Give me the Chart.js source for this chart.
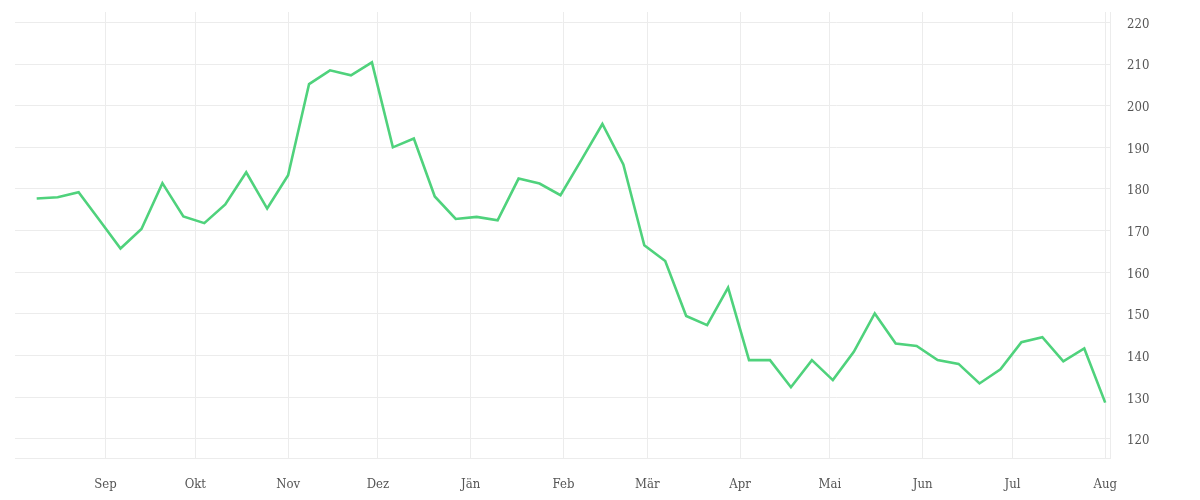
<!DOCTYPE html>
<html>
<head>
<meta charset="utf-8">
<script src="https://cdn.jsdelivr.net/npm/chart.js@4/dist/chart.umd.min.js"></script>
<style>
  html, body { margin: 0; padding: 0; background: #fff; }
  #wrap { width: 1200px; height: 500px; }
</style>
</head>
<body>
<div id="wrap"><canvas id="chart" width="1200" height="500"></canvas></div>
<script>
// weekly dates
const dates = [
  "2022-08-09", "2022-08-16", "2022-08-23", "2022-08-30", "2022-09-06", "2022-09-13",
  "2022-09-20", "2022-09-27", "2022-10-04", "2022-10-11", "2022-10-18", "2022-10-25",
  "2022-11-01", "2022-11-08", "2022-11-15", "2022-11-22", "2022-11-29", "2022-12-06",
  "2022-12-13", "2022-12-20", "2022-12-27", "2023-01-03", "2023-01-10", "2023-01-17",
  "2023-01-24", "2023-01-31", "2023-02-07", "2023-02-14", "2023-02-21", "2023-02-28",
  "2023-03-07", "2023-03-14", "2023-03-21", "2023-03-28", "2023-04-04", "2023-04-11",
  "2023-04-18", "2023-04-25", "2023-05-02", "2023-05-09", "2023-05-16", "2023-05-23",
  "2023-05-30", "2023-06-06", "2023-06-13", "2023-06-20", "2023-06-27", "2023-07-04",
  "2023-07-11", "2023-07-18", "2023-07-25", "2023-08-01"
];

const values = [
  177.7, 178.0, 179.2, 172.5, 165.7, 170.4, 181.4, 173.4, 171.8, 176.3, 184.0, 175.3,
  183.3, 205.2, 208.5, 207.3, 210.4, 190.0, 192.1, 178.2, 172.8, 173.3, 172.5, 182.5,
  181.3, 178.5, 187.0, 195.6, 185.9, 166.5, 162.7, 149.5, 147.3, 156.3, 138.9, 138.9,
  132.4, 138.9, 134.1, 140.9, 150.1, 142.9, 142.3, 138.9, 138.0, 133.3, 136.7, 143.2,
  144.4, 138.6, 141.7, 128.7
];

// month ticks on the x axis
const monthDates = [
  "2022-09-01", "2022-10-01", "2022-11-01", "2022-12-01", "2023-01-01", "2023-02-01",
  "2023-03-01", "2023-04-01", "2023-05-01", "2023-06-01", "2023-07-01", "2023-08-01"
];
const monthLabels = ["Sep", "Okt", "Nov", "Dez", "Jän", "Feb", "Mär", "Apr", "Mai", "Jun", "Jul", "Aug"];

const yTicks = [120, 130, 140, 150, 160, 170, 180, 190, 200, 210, 220];

const DAY = 86400000;
const toDay = s => Date.parse(s + "T00:00:00Z") / DAY;

const points = dates.map((d, i) => ({ x: toDay(d), y: values[i] }));
const monthDays = monthDates.map(toDay);

const gridColor = "#ececec";
const textColor = "#555";
const font = { family: "'DejaVu Serif Condensed', 'DejaVu Serif', serif", size: 13 };

new Chart(document.getElementById("chart"), {
  type: "line",
  data: {
    datasets: [{
      data: points,
      borderColor: "#4fd27c",
      borderWidth: 2.6,
      pointRadius: 0,
      tension: 0,
      fill: false
    }]
  },
  options: {
    responsive: false,
    animation: false,
    layout: { padding: { left: 15, top: 12, right: 0, bottom: 0 } },
    plugins: { legend: { display: false }, tooltip: { enabled: false } },
    scales: {
      x: {
        type: "linear",
        min: toDay("2022-08-01") + 0.75,
        max: toDay("2023-08-02") + 0.6,
        afterBuildTicks: axis => { axis.ticks = monthDays.map(v => ({ value: v })); },
        afterFit: axis => { axis.height = 42; },
        ticks: {
          autoSkip: false,
          maxRotation: 0,
          padding: 19,
          color: textColor,
          font,
          callback: (v) => {
            const i = monthDays.indexOf(v);
            return i >= 0 ? monthLabels[i] : "";
          }
        },
        grid: { color: gridColor, drawTicks: false },
        border: { color: gridColor }
      },
      y: {
        position: "right",
        min: 115.4,
        max: 222.5,
        afterBuildTicks: axis => { axis.ticks = yTicks.map(v => ({ value: v })); },
        afterFit: axis => {
          axis.width = 90;
          axis.paddingTop = 0;
          axis.paddingBottom = 0;
        },
        ticks: { padding: 17, labelOffset: 2, color: textColor, font },
        grid: { color: gridColor, drawTicks: false },
        border: { color: gridColor }
      }
    }
  }
});
</script>
</body>
</html>
